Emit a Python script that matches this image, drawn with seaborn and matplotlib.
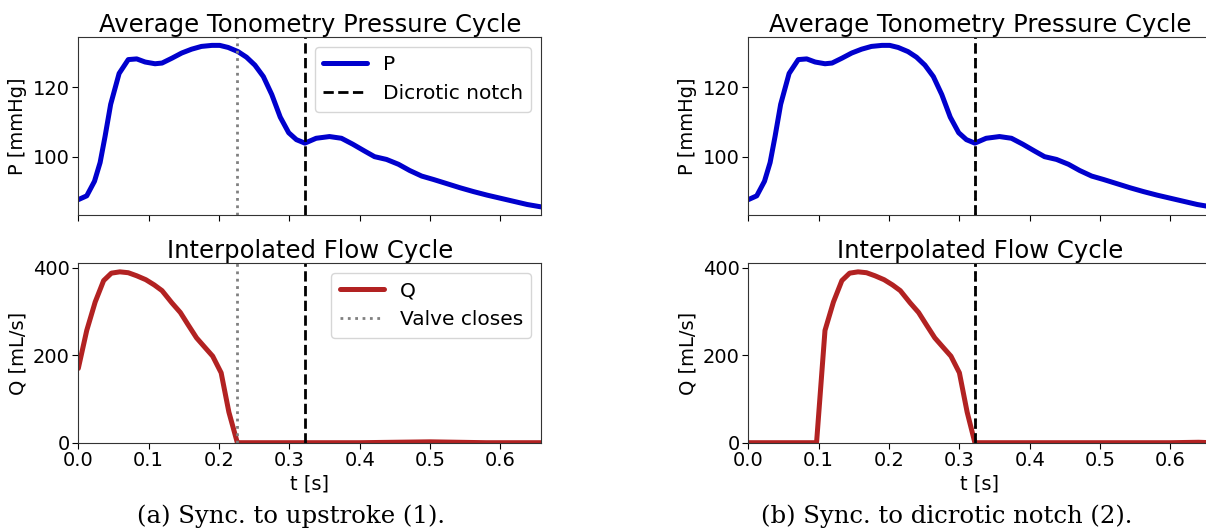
import numpy as np
import pandas as pd
import matplotlib
matplotlib.use("Agg")
import matplotlib.pyplot as plt
import seaborn as sns

# ---------------- data ----------------
t_p = [0.000, 0.012, 0.023, 0.031, 0.038, 0.046, 0.058, 0.071, 0.083, 0.095,
       0.109, 0.119, 0.133, 0.147, 0.161, 0.175, 0.190, 0.201, 0.213, 0.227,
       0.239, 0.251, 0.263, 0.275, 0.287, 0.299, 0.310, 0.322, 0.338, 0.357,
       0.374, 0.390, 0.407, 0.421, 0.438, 0.455, 0.471, 0.488, 0.505, 0.524,
       0.543, 0.562, 0.581, 0.600, 0.619, 0.638, 0.658]
p_mmhg = [87.6, 88.7, 92.9, 98.3, 105.8, 115.1, 124.0, 128.0, 128.2, 127.3,
          126.8, 127.0, 128.4, 129.9, 131.0, 131.8, 132.1, 132.1, 131.5, 130.3,
          128.7, 126.4, 123.1, 117.9, 111.4, 106.9, 104.9, 103.9, 105.3, 105.8,
          105.3, 103.6, 101.6, 100.0, 99.2, 97.8, 96.0, 94.4, 93.4, 92.2,
          91.0, 89.9, 88.9, 88.0, 87.1, 86.2, 85.5]

# flow, panel (a): synchronised to upstroke
t_q_a = [0.000, 0.012, 0.024, 0.036, 0.047, 0.059, 0.071, 0.083, 0.096, 0.108,
         0.119, 0.133, 0.145, 0.156, 0.168, 0.180, 0.191, 0.203, 0.214, 0.226,
         0.300, 0.400, 0.450, 0.500, 0.540, 0.580, 0.658]
q_a = [170, 257, 322, 371, 388, 391, 389, 382, 373, 361,
       348, 320, 298, 270, 240, 218, 198, 160, 70, 0,
       0, 0, 1, 2, 1, 0, 0]

# flow, panel (b): synchronised to dicrotic notch
t_q_b = [0.000, 0.097, 0.109, 0.121, 0.133, 0.144, 0.156, 0.168, 0.180, 0.193,
         0.205, 0.216, 0.230, 0.242, 0.253, 0.265, 0.277, 0.288, 0.300, 0.311,
         0.322, 0.400, 0.500, 0.600, 0.640, 0.658]
q_b = [0, 0, 257, 322, 371, 388, 391, 389, 382, 373,
       361, 348, 320, 298, 270, 240, 218, 198, 160, 70,
       0, 0, 0, 0, 1, 0]

t_end = 0.658
dicrotic_notch = 0.322
valve_close_a = 0.226
valve_close_b = 0.322

captions = ["(a) Sync. to upstroke (1).", "(b) Sync. to dicrotic notch (2)."]

# ---------------- style ----------------
sns.set_style("ticks")
plt.rcParams["font.family"] = ["DejaVu Sans"]
plt.rcParams["axes.edgecolor"] = "#333333"
for k in ["text.color", "axes.labelcolor", "xtick.color", "ytick.color"]:
    plt.rcParams[k] = "black"

P_COLOR = "#0000CD"
Q_COLOR = "#B22222"
FS = 14

W, H = 1206, 529
fig = plt.figure(figsize=(W / 100, H / 100), dpi=100)

def frac_x(px):
    return px / W

def frac_y(px):
    return 1 - px / H

panels = [
    dict(left=78.3, qt=t_q_a, qv=q_a, valve=valve_close_a, legend=True),
    dict(left=748.3, qt=t_q_b, qv=q_b, valve=valve_close_b, legend=False),
]
width_px = 463.0

for i, pn in enumerate(panels):
    l = frac_x(pn["left"])
    w = width_px / W
    ax1 = fig.add_axes([l, frac_y(215.0), w, (215.0 - 37.3) / H])
    ax2 = fig.add_axes([l, frac_y(442.7), w, (442.7 - 263.3) / H], sharex=ax1)

    dfp = pd.DataFrame({"t": t_p, "P": p_mmhg})
    sns.lineplot(data=dfp, x="t", y="P", ax=ax1, color=P_COLOR, lw=3.6,
                 label="P", legend=False)
    ax1.axvline(pn["valve"], color="gray", ls=":", lw=2)
    ax1.axvline(dicrotic_notch, color="black", ls="--", lw=2,
                label="Dicrotic notch")

    dfq = pd.DataFrame({"t": pn["qt"], "Q": pn["qv"]})
    sns.lineplot(data=dfq, x="t", y="Q", ax=ax2, color=Q_COLOR, lw=3.6,
                 label="Q", legend=False)
    ax2.axvline(pn["valve"], color="gray", ls=":", lw=2, label="Valve closes")
    ax2.axvline(dicrotic_notch, color="black", ls="--", lw=2)

    ax1.set_xlim(0, t_end)
    ax2.set_ylim(bottom=0)
    ax1.set_title("Average Tonometry Pressure Cycle", fontsize=17.5, pad=4)
    ax2.set_title("Interpolated Flow Cycle", fontsize=17.5, pad=4)
    ax1.set_ylabel("P [mmHg]", fontsize=FS)
    ax2.set_ylabel("Q [mL/s]", fontsize=FS)
    ax1.set_xlabel("")
    ax2.set_xlabel("t [s]", fontsize=FS, labelpad=3)
    ax1.set_yticks([100, 120])
    ax2.set_yticks([0, 200, 400])
    ax2.set_xticks([0.0, 0.1, 0.2, 0.3, 0.4, 0.5, 0.6])
    ax2.set_xticklabels(["0.0", "0.1", "0.2", "0.3", "0.4", "0.5", "0.6"])
    plt.setp(ax1.get_xticklabels(), visible=False)
    for ax in (ax1, ax2):
        ax.tick_params(labelsize=FS, length=4, width=0.8, pad=2)
        for s in ax.spines.values():
            s.set_linewidth(0.8)

    if pn["legend"]:
        ax1.legend(loc="upper right", fontsize=14.5, handlelength=2.2)
        ax2.legend(loc="upper right", fontsize=14.5, handlelength=2.2)

# captions, sized so the two captions together span about as much as in the reference
renderer = fig.canvas.get_renderer()
widths = []
for c in captions:
    probe = fig.text(0, 0, c, fontsize=17, family=["DejaVu Serif"])
    widths.append(probe.get_window_extent(renderer).width)
    probe.remove()
cap_fs = 17 * (322.0 + 358.0) / sum(widths)
for i, center in enumerate([291, 947]):
    fig.text(frac_x(center), frac_y(516), captions[i], ha="center",
             va="center", fontsize=cap_fs, family=["DejaVu Serif"])

fig.savefig("out.png", dpi=100)
